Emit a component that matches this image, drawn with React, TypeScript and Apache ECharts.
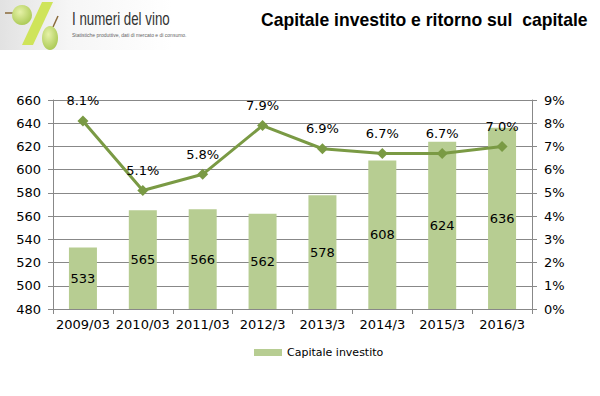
import React, { useEffect, useRef } from "react";
import * as echarts from "echarts";

const categories = ["2009/03", "2010/03", "2011/03", "2012/3", "2013/3", "2014/3", "2015/3", "2016/3"];
const capitaleInvestito = [533, 565, 566, 562, 578, 608, 624, 636];
const ritornoCapitale = [8.1, 5.1, 5.8, 7.9, 6.9, 6.7, 6.7, 7.0];

const FONT = "DejaVu Sans";

export default function App() {
  const ref = useRef<HTMLDivElement>(null);
  useEffect(() => {
    if (!ref.current) return;
    const chart = echarts.init(ref.current, null, { renderer: "svg" });
    const grapeFill = () =>
      new echarts.graphic.RadialGradient(0.4, 0.35, 0.7, [
        { offset: 0, color: "#e6f2a8" },
        { offset: 1, color: "#a9c852" },
      ]);
    chart.setOption({
      animation: false,
      backgroundColor: "#ffffff",
      textStyle: { fontFamily: FONT },
      graphic: [
        {
          type: "rect",
          shape: { x: 0, y: 0, width: 172, height: 50 },
          style: {
            fill: new echarts.graphic.LinearGradient(0, 0, 1, 0, [
              { offset: 0, color: "#e2e2e2" },
              { offset: 0.4, color: "#f6f6f6" },
              { offset: 1, color: "#ffffff" },
            ]),
          },
        },
        {
          type: "polygon",
          shape: { points: [[42, 2], [53, 2], [33, 45], [22, 45]] },
          style: { fill: "#cfe45a" },
        },
        {
          type: "line",
          shape: { x1: 5, y1: 13, x2: 14, y2: 13 },
          style: { stroke: "#8a6a3a", lineWidth: 1.5 },
        },
        {
          type: "circle",
          shape: { cx: 22, cy: 15, r: 10 },
          style: { fill: grapeFill() },
        },
        {
          type: "line",
          shape: { x1: 53, y1: 27, x2: 58, y2: 16 },
          style: { stroke: "#8a6a3a", lineWidth: 1.5 },
        },
        {
          type: "ellipse",
          shape: { cx: 50, cy: 38, rx: 8, ry: 12 },
          style: { fill: grapeFill() },
        },
        {
          type: "text",
          x: 72,
          y: 10,
          scaleX: 0.74,
          style: {
            text: "I numeri del vino",
            fontFamily: "Liberation Sans",
            fontSize: 18,
            fill: "#333333",
          },
        },
        {
          type: "text",
          x: 72,
          y: 32,
          style: {
            text: "Statistiche produttive, dati di mercato e di consumo.",
            fontFamily: "Liberation Sans",
            fontSize: 5,
            fill: "#666666",
          },
        },
        {
          type: "text",
          x: 261,
          y: 11,
          scaleX: 0.975,
          style: {
            text: "Capitale investito e ritorno sul  capitale",
            fontFamily: "Liberation Sans",
            fontWeight: "bold",
            fontSize: 18,
            fill: "#000000",
          },
        },
      ],
      legend: {
        data: ["Capitale investito"],
        left: 249,
        top: 342,
        itemWidth: 28,
        itemHeight: 7,
        itemGap: 4,
        icon: "rect",
        textStyle: { fontFamily: FONT, fontSize: 11, color: "#000" },
      },
      grid: { left: 53, right: 68, top: 100, bottom: 87, containLabel: false },
      xAxis: {
        type: "category",
        data: categories,
        axisLine: { lineStyle: { color: "#888888", width: 1 } },
        axisTick: { show: true, length: 5, lineStyle: { color: "#888888" } },
        axisLabel: { fontFamily: FONT, fontSize: 13, color: "#000", margin: 9, interval: 0 },
      },
      yAxis: [
        {
          type: "value",
          min: 480,
          max: 660,
          interval: 20,
          axisLine: { show: true, lineStyle: { color: "#888888" } },
          axisTick: { show: true, length: 5, lineStyle: { color: "#888888" } },
          splitLine: { lineStyle: { color: "#888888", width: 1 } },
          axisLabel: { fontFamily: FONT, fontSize: 13, color: "#000", margin: 12 },
        },
        {
          type: "value",
          min: 0,
          max: 9,
          interval: 1,
          position: "right",
          axisLine: { show: true, lineStyle: { color: "#888888" } },
          axisTick: { show: true, length: 5, lineStyle: { color: "#888888" } },
          splitLine: { show: false },
          axisLabel: {
            fontFamily: FONT,
            fontSize: 13,
            color: "#000",
            margin: 12,
            formatter: (v: number) => v + "%",
          },
        },
      ],
      series: [
        {
          name: "Capitale investito",
          type: "bar",
          data: capitaleInvestito,
          barWidth: 28,
          itemStyle: { color: "#b7cd92" },
          label: {
            show: true,
            position: "inside",
            fontFamily: FONT,
            fontSize: 13,
            color: "#000",
          },
          z: 2,
        },
        {
          name: "Ritorno sul capitale",
          type: "line",
          yAxisIndex: 1,
          data: ritornoCapitale,
          symbol: "diamond",
          symbolSize: 11,
          lineStyle: { color: "#7a9a44", width: 3 },
          itemStyle: { color: "#7a9a44" },
          label: {
            show: true,
            position: "top",
            distance: 8,
            fontFamily: FONT,
            fontSize: 13,
            color: "#000",
            formatter: (p: any) => p.value.toFixed(1) + "%",
          },
          z: 3,
        },
      ],
    });
    return () => chart.dispose();
  }, []);
  return <div ref={ref} style={{ width: 600, height: 396, position: "absolute", left: 0, top: 0 }} />;
}
